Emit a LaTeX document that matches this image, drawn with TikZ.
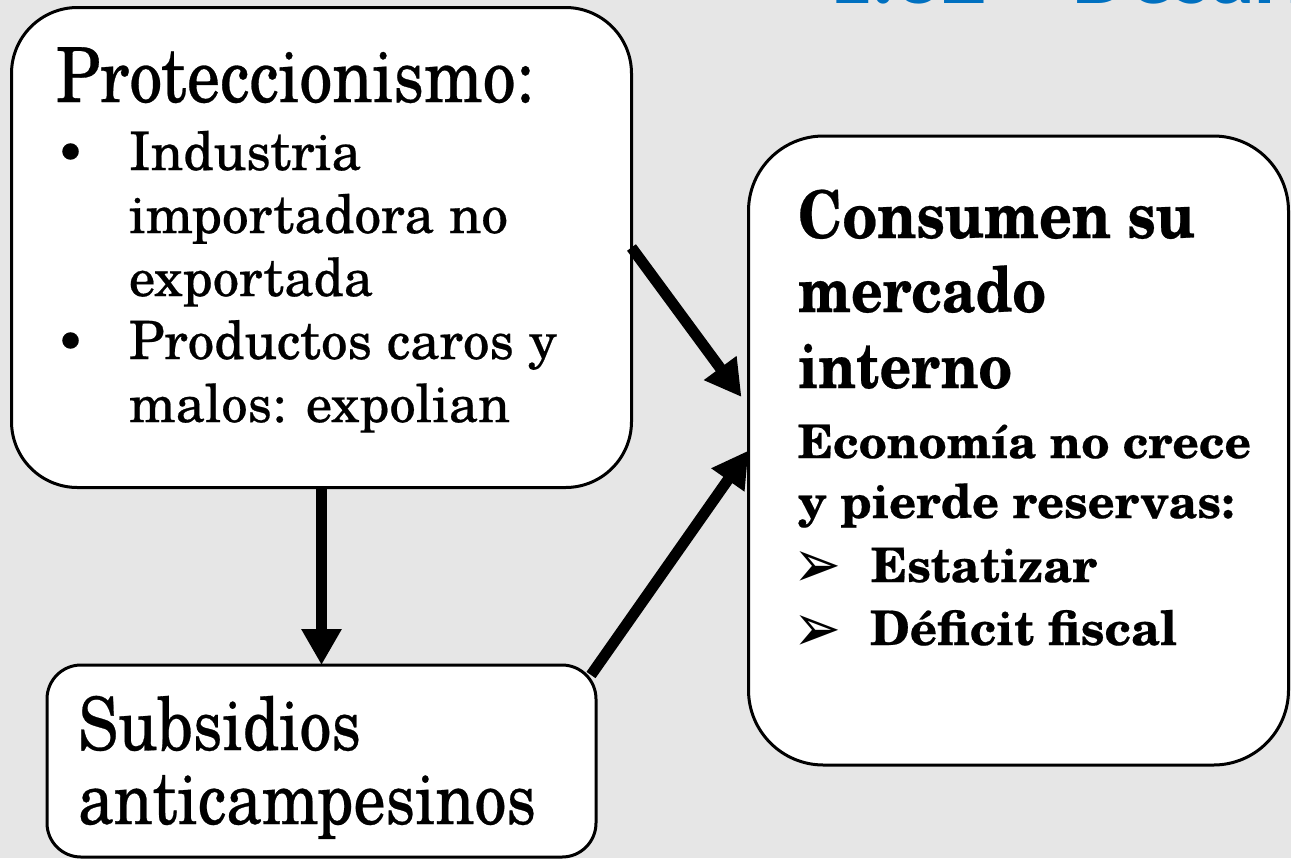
\documentclass[tikz,border=0pt]{standalone}
\usepackage{fontspec}
\setmainfont{TeX Gyre Schola}[FakeBold=0.4]
\newfontfamily\djv{DejaVu Sans}
\newfontfamily\carl{Carlito}
\usetikzlibrary{arrows.meta}
\definecolor{bggray}{RGB}{230,230,230}
\definecolor{ttlblue}{RGB}{0,112,192}
\newcommand\fitw[2]{\resizebox{#1}{!}{#2}}
\newcommand\fitt[2]{\scalebox{1}[1.15]{\resizebox{#1}{!}{#2}}}
\newcommand\fTitle{\fontsize{36}{40}\selectfont}
\newcommand\fBody{\fontsize{24}{28}\selectfont}
\newcommand\fHead{\bfseries\fontsize{33}{38}\selectfont}
\newcommand\fSub{\bfseries\fontsize{22}{26}\selectfont}
\newcommand\fBig{\fontsize{33}{38}\selectfont}
\tikzset{
  box/.style={draw=black, line width=1.5pt, fill=white, rectangle, inner sep=0pt, outer sep=0pt},
  txt/.style={anchor=base west, inner sep=0pt, outer sep=0pt},
  arr/.style={line width=5.5pt, -{Triangle[length=18pt,width=19pt]}},
  tip/.style={anchor=center, inner sep=0pt, outer sep=0pt}
}
\begin{document}
\begin{tikzpicture}[x=0.5pt,y=-0.5pt]
\useasboundingbox (0,0) rectangle (1291,858);
\clip (0,0) rectangle (1291,858);
\fill[bggray] (0,0) rectangle (1291,858);

% partially visible title
\node[txt, text=ttlblue] (title) at (826,3) {\carl\bfseries\fontsize{45}{50}\selectfont 1.32 – Desarrollo};

% boxes
\node[box, rounded corners=33pt, minimum width=310pt, minimum height=240pt] (A) at (321.5,247.5) {};
\node[box, rounded corners=17pt, minimum width=274.5pt, minimum height=96pt] (B) at (321.5,761) {};
\node[box, rounded corners=37.5pt, minimum width=270pt, minimum height=314.5pt] (C) at (1018.5,450.5) {};

% arrows
\draw[arr] (A.east) -- ([xshift=-3.5pt,yshift=26.75pt]C.west);
\draw[arr] ([xshift=-2.5pt,yshift=-5pt]B.north east) -- (C.west);
\draw[arr] (A.south) -- (B.north);

% box A text
\node[txt] (a0) at (56,102) {\fTitle\fitt{239pt}{Proteccionismo:}};
\node[txt] (ab1) at (56,170) {\fBody •};
\node[txt] (a1) at (129,170) {\fBody\fitw{116pt}{Industria}};
\node[txt] (a2) at (129,233) {\fBody\fitw{189.5pt}{importadora no}};
\node[txt] (a3) at (129,296) {\fBody\fitw{122pt}{exportada}};
\node[txt] (ab2) at (56,359) {\fBody •};
\node[txt] (a4) at (129,359) {\fBody\fitw{214pt}{Productos caros y}};
\node[txt] (a5) at (129,422) {\fBody\fitw{190.5pt}{malos: expolian}};

% box B text
\node[txt] (b1) at (78,750) {\fBig\fitt{141.5pt}{Subsidios}};
\node[txt] (b2) at (78,824) {\fBig\fitt{229pt}{anticampesinos}};

% box C text
\node[txt] (c1) at (798,238) {\fHead\fitt{198.5pt}{Consumen su}};
\node[txt] (c2) at (798,312) {\fHead\fitt{124pt}{mercado}};
\node[txt] (c3) at (798,388) {\fHead\fitt{107pt}{interno}};
\node[txt] (c4) at (798,458) {\fSub\fitw{226.5pt}{Economía no crece}};
\node[txt] (c5) at (798,518) {\fSub\fitw{218pt}{y pierde reservas:}};
\node[tip] (m1) at (817,569) {\resizebox*{24pt}{18pt}{\djv ➢}};
\node[txt] (c6) at (871,582) {\fSub\fitw{113pt}{Estatizar}};
\node[tip] (m2) at (817,633) {\resizebox*{24pt}{18pt}{\djv ➢}};
\node[txt] (c7) at (870,645) {\fSub\fitw{153.5pt}{Déficit fiscal}};
\end{tikzpicture}
\end{document}
